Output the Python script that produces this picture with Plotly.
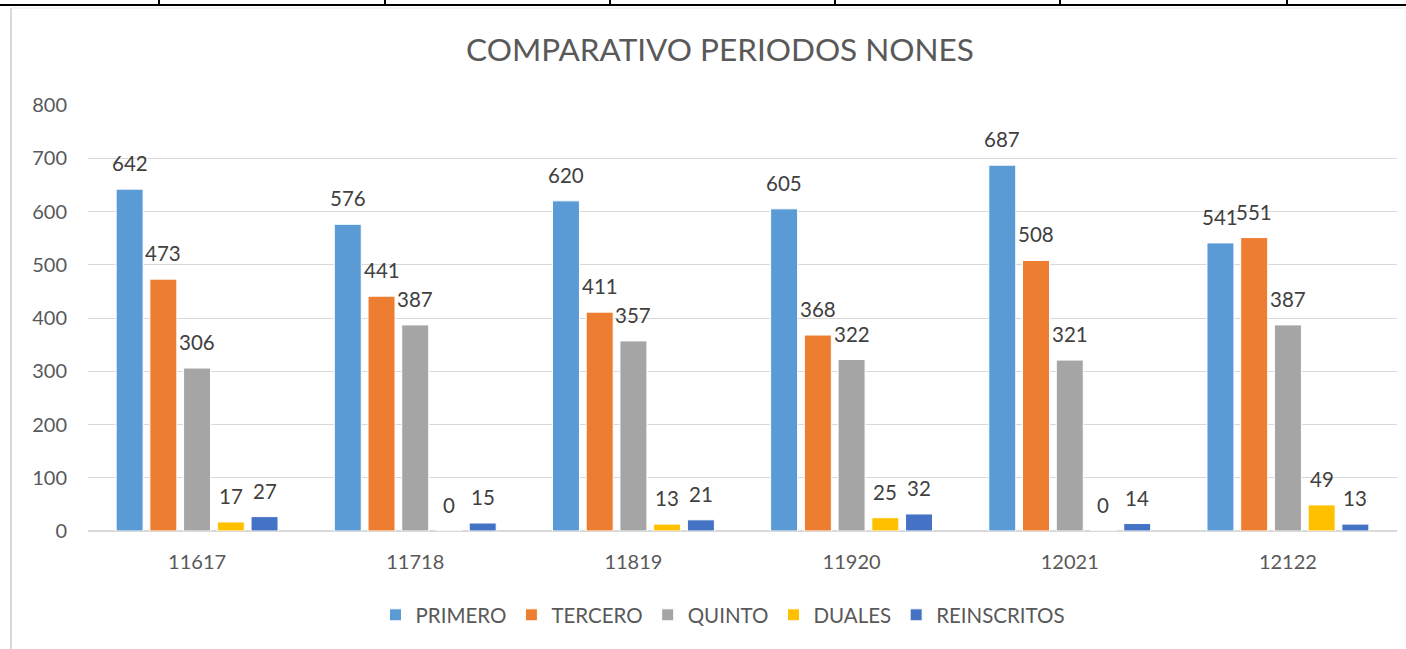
import plotly.graph_objects as go

periodos = ["11617", "11718", "11819", "11920", "12021", "12122"]
primero = [642, 576, 620, 605, 687, 541]
tercero = [473, 441, 411, 368, 508, 551]
quinto = [306, 387, 357, 322, 321, 387]
duales = [17, 0, 13, 25, 0, 49]
reinscritos = [27, 15, 21, 32, 14, 13]

series = [
    ("PRIMERO", primero, "#5B9BD5"),
    ("TERCERO", tercero, "#ED7D31"),
    ("QUINTO", quinto, "#A5A5A5"),
    ("DUALES", duales, "#FFC000"),
    ("REINSCRITOS", reinscritos, "#4472C4"),
]

W, H = 1406, 649
L, R, T, B = 88, 9, 105, 118
PW, PH = W - L - R, H - T - B
BARGAP, BARGROUPGAP = 0.227, 0.2

def px_x(px):
    return (px - L) / PW

def px_y(py):
    return (H - B - py) / PH

FONT = "Lato"

fig = go.Figure()
annotations = []
n = len(series)
slot_px = PW / len(periodos) * (1 - BARGAP) / n
for i, (name, vals, color) in enumerate(series):
    fig.add_trace(go.Bar(
        name=name, x=periodos, y=vals,
        marker=dict(color=color, line=dict(color="white", width=1)),
        cliponaxis=False,
    ))
    for j, v in enumerate(vals):
        # x given as category index on the category axis
        annotations.append(dict(
            x=j, y=v, xref="x", yref="y", text=str(v), showarrow=False,
            xanchor="center", yanchor="bottom",
            xshift=(i - (n - 1) / 2) * slot_px, yshift=12,
            font=dict(family=FONT, size=20.5, color="#404040"),
        ))

shapes = []
# spreadsheet grid decoration above the chart
shapes.append(dict(type="line", xref="paper", yref="paper",
                   x0=px_x(0), x1=px_x(W), y0=px_y(5), y1=px_y(5),
                   line=dict(color="black", width=2)))
for vx in [159, 385, 610, 835, 1060, 1287]:
    shapes.append(dict(type="line", xref="paper", yref="paper",
                       x0=px_x(vx), x1=px_x(vx), y0=px_y(0), y1=px_y(5),
                       line=dict(color="black", width=2)))
# chart area border
shapes.append(dict(type="line", xref="paper", yref="paper",
                   x0=px_x(11), x1=px_x(11), y0=px_y(8), y1=px_y(H),
                   line=dict(color="#D9D9D9", width=2)))
shapes.append(dict(type="line", xref="paper", yref="paper",
                   x0=px_x(11), x1=px_x(W), y0=px_y(8), y1=px_y(8),
                   line=dict(color="#E6E6E6", width=1)))

fig.update_layout(
    width=W, height=H,
    margin=dict(l=L, r=R, t=T, b=B),
    paper_bgcolor="white", plot_bgcolor="white",
    barmode="group", bargap=BARGAP, bargroupgap=BARGROUPGAP,
    title=dict(text="COMPARATIVO PERIODOS NONES", x=720 / W, xref="container", xanchor="center",
               y=1 - 50 / H, yref="container", yanchor="middle",
               font=dict(family=FONT, size=31.5, color="#595959")),
    font=dict(family=FONT, color="#595959"),
    xaxis=dict(type="category", categoryorder="array", categoryarray=periodos,
               range=[-0.5, len(periodos) - 0.5],
               showgrid=False, showline=False, ticks="",
               tickfont=dict(family=FONT, size=20, color="#595959"),
               ticklabelstandoff=17),
    yaxis=dict(range=[0, 800], dtick=100, showgrid=True, gridcolor="#D9D9D9", gridwidth=1,
               zeroline=True, zerolinecolor="#D9D9D9", zerolinewidth=2,
               showline=False, ticks="",
               tickfont=dict(family=FONT, size=20, color="#595959"),
               ticklabelstandoff=20),
    legend=dict(orientation="h", x=px_x(723), xanchor="center", y=px_y(615), yanchor="middle",
                font=dict(family=FONT, size=20.5, color="#595959"),
                itemwidth=30, traceorder="normal"),
    shapes=shapes,
    annotations=annotations,
)

fig.write_html("out.html", config={"displayModeBar": False},
               post_script="document.body.style.margin='0';document.body.style.overflow='hidden';")
